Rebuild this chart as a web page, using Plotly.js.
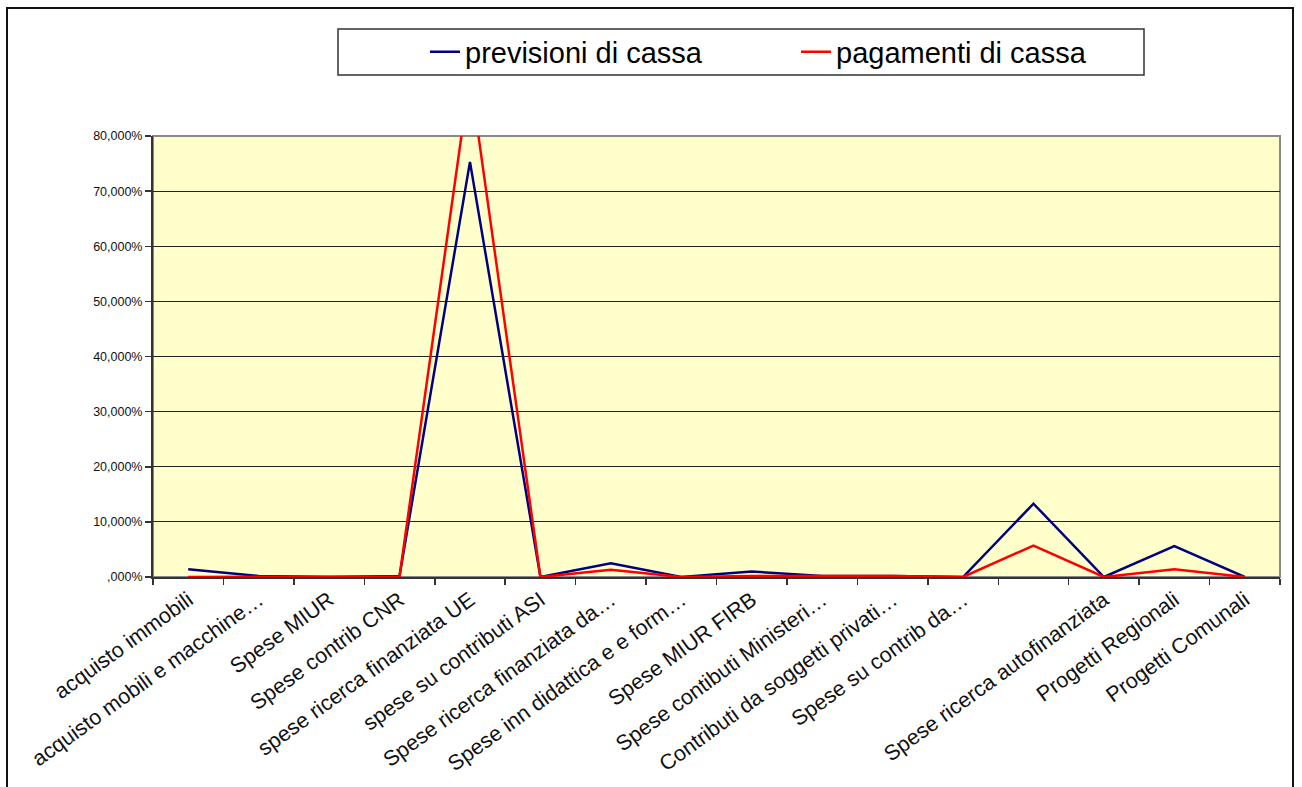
<!DOCTYPE html>
<html><head><meta charset="utf-8">
<script src="https://cdn.plot.ly/plotly-3.0.1.min.js"></script>
<style>
body{margin:0;padding:0;background:#fff;overflow:hidden;}
#frame{position:absolute;left:6px;top:7px;width:1288px;height:820px;border:2px solid #111;box-sizing:border-box;pointer-events:none;z-index:5;}
#chart{position:absolute;left:0;top:0;width:1302px;height:787px;}
</style></head>
<body>
<div id="chart"></div>
<div id="frame"></div>
<script>
const categories = [
  "acquisto immobili",
  "acquisto mobili e macchine…",
  "Spese MIUR",
  "Spese contrib CNR",
  "spese ricerca finanziata UE",
  "spese su contributi ASI",
  "Spese ricerca finanziata da…",
  "Spese inn didattica e e form…",
  "Spese MIUR FIRB",
  "Spese contibuti Ministeri…",
  "Contributi da soggetti privati…",
  "Spese su contrib da…",
  "\u00a0",
  "Spese ricerca autofinanziata",
  "Progetti Regionali",
  "Progetti Comunali"
];
const previsioniDiCassa = [1.4, 0.2, 0, 0.2, 75.3, 0, 2.5, 0, 1.0, 0.2, 0.2, 0, 13.3, 0, 5.6, 0];
const pagamentiDiCassa  = [0, 0, 0, 0.1, 91, 0, 1.3, 0, 0.2, 0.2, 0.2, 0, 5.7, 0, 1.4, 0];
const yTickValues = [0, 10, 20, 30, 40, 50, 60, 70, 80];
const yTickLabels = [",000%", "10,000%", "20,000%", "30,000%", "40,000%", "50,000%", "60,000%", "70,000%", "80,000%"];
const seriesNames = ["previsioni di cassa", "pagamenti di cassa"];

const traces = [
  {x: categories, y: previsioniDiCassa, name: seriesNames[0], type: "scatter", mode: "lines",
   line: {color: "#000080", width: 2.5}},
  {x: categories, y: pagamentiDiCassa, name: seriesNames[1], type: "scatter", mode: "lines",
   line: {color: "#FF0000", width: 2.5}}
];

const L = 153, R = 1280, T = 136, B = 577;
const pw = R - L, ph = B - T;
function px(x){ return (x - L) / pw; }
function py(y){ return (B - y) / ph; }

const layout = {
  width: 1302, height: 787,
  margin: {l: L, r: 1302 - R, t: T, b: 787 - B},
  paper_bgcolor: "#ffffff",
  plot_bgcolor: "#FFFFCC",
  font: {family: "Arial, 'Liberation Sans', sans-serif", color: "#000"},
  showlegend: true,
  legend: {
    orientation: "h",
    x: px(425), xanchor: "left",
    y: py(52), yanchor: "middle",
    bgcolor: "rgba(0,0,0,0)",
    borderwidth: 0,
    font: {family: "Arial, 'Liberation Sans', sans-serif", size: 29, color: "#000"},
    entrywidth: 326,
    itemwidth: 30
  },
  xaxis: {
    type: "category",
    tickson: "boundaries",
    ticks: "outside", ticklen: 6, tickcolor: "#333", tickwidth: 1.5,
    showline: true, linecolor: "#333", linewidth: 2,
    showgrid: false,
    tickangle: -36,
    tickfont: {size: 21.5, color: "#111"},
    range: [-0.5, 15.5],
    fixedrange: true
  },
  yaxis: {
    range: [0, 80],
    tickvals: yTickValues, ticktext: yTickLabels,
    ticks: "outside", ticklen: 6, tickcolor: "#333", tickwidth: 1.5,
    showline: true, linecolor: "#333", linewidth: 2,
    showgrid: true, gridcolor: "#222", gridwidth: 1,
    zeroline: false,
    tickfont: {size: 12.5, color: "#111"},
    fixedrange: true
  },
  shapes: [
    {type: "rect", xref: "paper", yref: "paper", x0: 0, x1: 1, y0: 0, y1: 1,
     line: {color: "#8a8a8a", width: 2}, layer: "below"},
    {type: "rect", xref: "paper", yref: "paper", x0: px(338), x1: px(1144), y0: py(75), y1: py(29),
     line: {color: "#333", width: 1.5}, fillcolor: "rgba(0,0,0,0)"}
  ]
};

Plotly.newPlot("chart", traces, layout, {displayModeBar: false, staticPlot: true});
</script>
</body></html>
